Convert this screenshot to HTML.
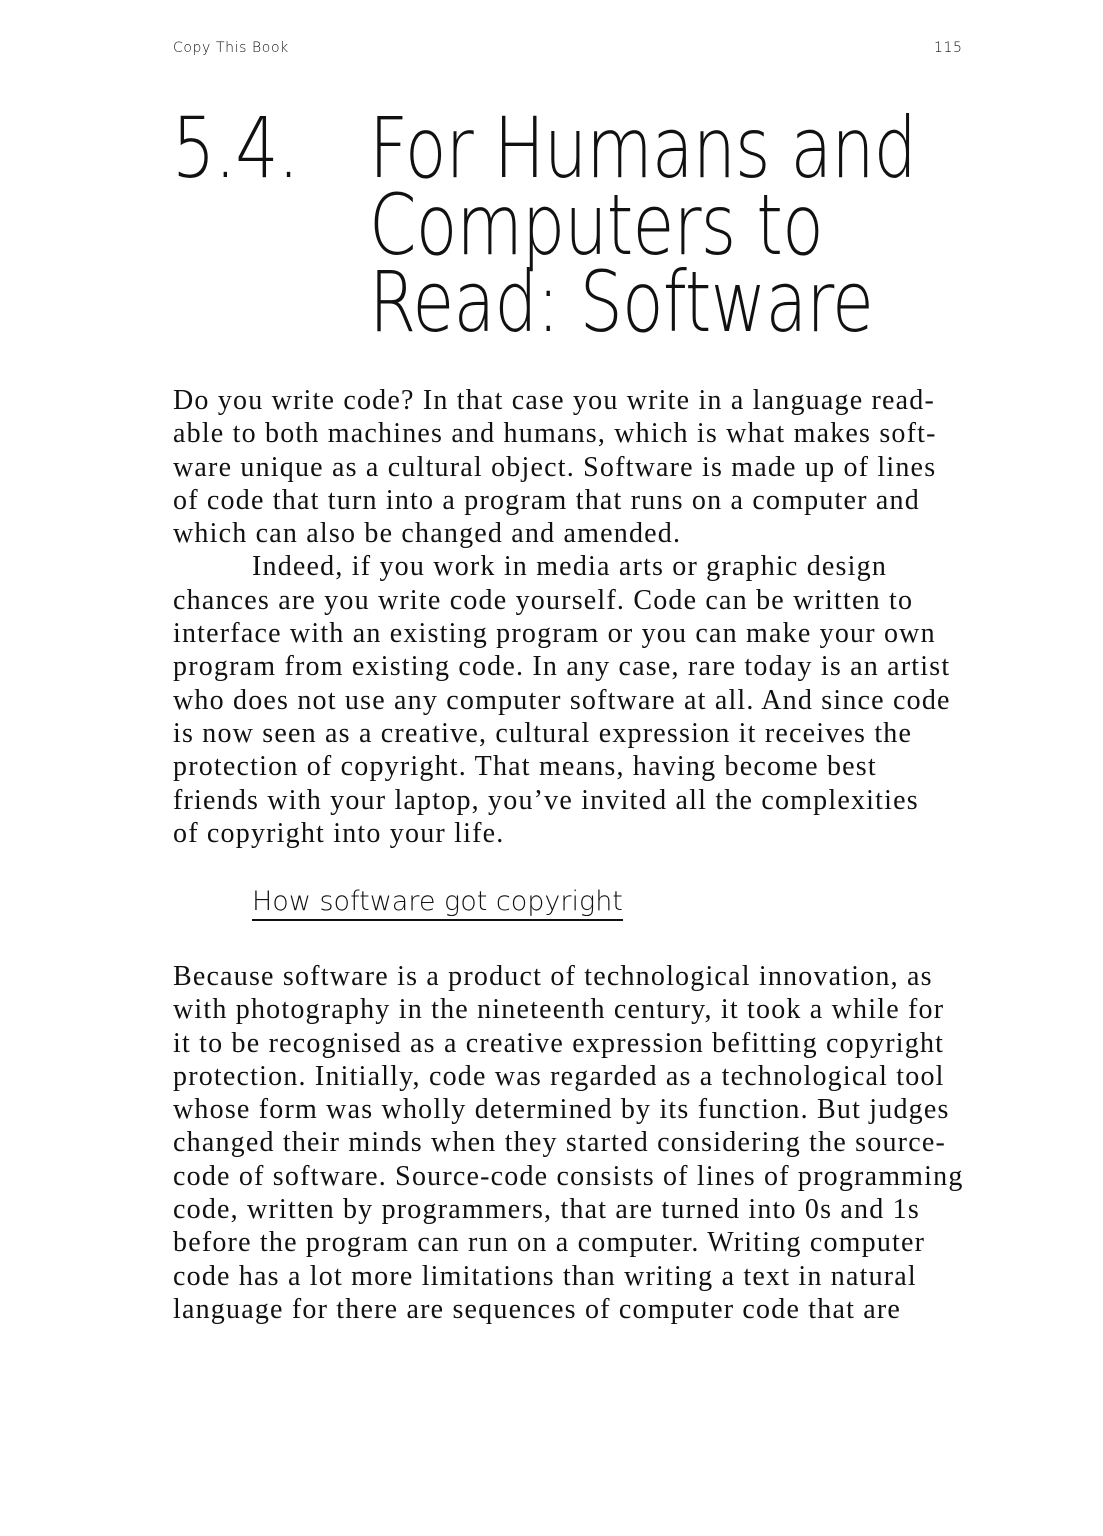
<!DOCTYPE html>
<html><head><meta charset="utf-8">
<style>
html,body{margin:0;padding:0;background:#fff;}
body{width:1103px;height:1536px;position:relative;overflow:hidden;color:#111;}
.hdr{position:absolute;top:40px;font-family:"DejaVu Sans",sans-serif;font-size:14px;letter-spacing:0.6px;font-weight:200;}
.title{position:absolute;font-family:"DejaVu Sans",sans-serif;font-weight:200;font-size:84px;line-height:77px;letter-spacing:-1px;white-space:nowrap;transform:scaleX(0.81);transform-origin:0 0;}
.para{position:absolute;left:173px;font-family:"Liberation Serif",serif;font-size:28px;line-height:33.3px;letter-spacing:1.2px;}
.para div{white-space:nowrap;height:33.3px;}
.sub{position:absolute;left:252px;top:886px;font-family:"DejaVu Sans",sans-serif;font-weight:200;font-size:27px;border-bottom:2px solid #111;padding-bottom:2px;white-space:nowrap;}
</style></head>
<body>
<div class="hdr" style="left:173px">Copy This Book</div>
<div class="hdr" style="left:934px">115</div>
<div class="title" style="left:172px;top:110px">5.4.</div>
<div class="title" style="left:369px;top:110px">For Humans and<br>Computers to<br>Read: Software</div>
<div class="para" style="top:384px">
<div>Do you write code? In that case you write in a language read-</div>
<div>able to both machines and humans, which is what makes soft-</div>
<div>ware unique as a cultural object. Software is made up of lines</div>
<div>of code that turn into a program that runs on a computer and</div>
<div>which can also be changed and amended.</div>
<div style="padding-left:79px">Indeed, if you work in media arts or graphic design</div>
<div>chances are you write code yourself. Code can be written to</div>
<div>interface with an existing program or you can make your own</div>
<div>program from existing code. In any case, rare today is an artist</div>
<div>who does not use any computer software at all. And since code</div>
<div>is now seen as a creative, cultural expression it receives the</div>
<div>protection of copyright. That means, having become best</div>
<div>friends with your laptop, you’ve invited all the complexities</div>
<div>of copyright into your life.</div>
</div>
<div class="sub">How software got copyright</div>
<div class="para" style="top:960px">
<div>Because software is a product of technological innovation, as</div>
<div>with photography in the nineteenth century, it took a while for</div>
<div>it to be recognised as a creative expression befitting copyright</div>
<div>protection. Initially, code was regarded as a technological tool</div>
<div>whose form was wholly determined by its function. But judges</div>
<div>changed their minds when they started considering the source-</div>
<div>code of software. Source-code consists of lines of programming</div>
<div>code, written by programmers, that are turned into 0s and 1s</div>
<div>before the program can run on a computer. Writing computer</div>
<div>code has a lot more limitations than writing a text in natural</div>
<div>language for there are sequences of computer code that are</div>
</div>
</body></html>
